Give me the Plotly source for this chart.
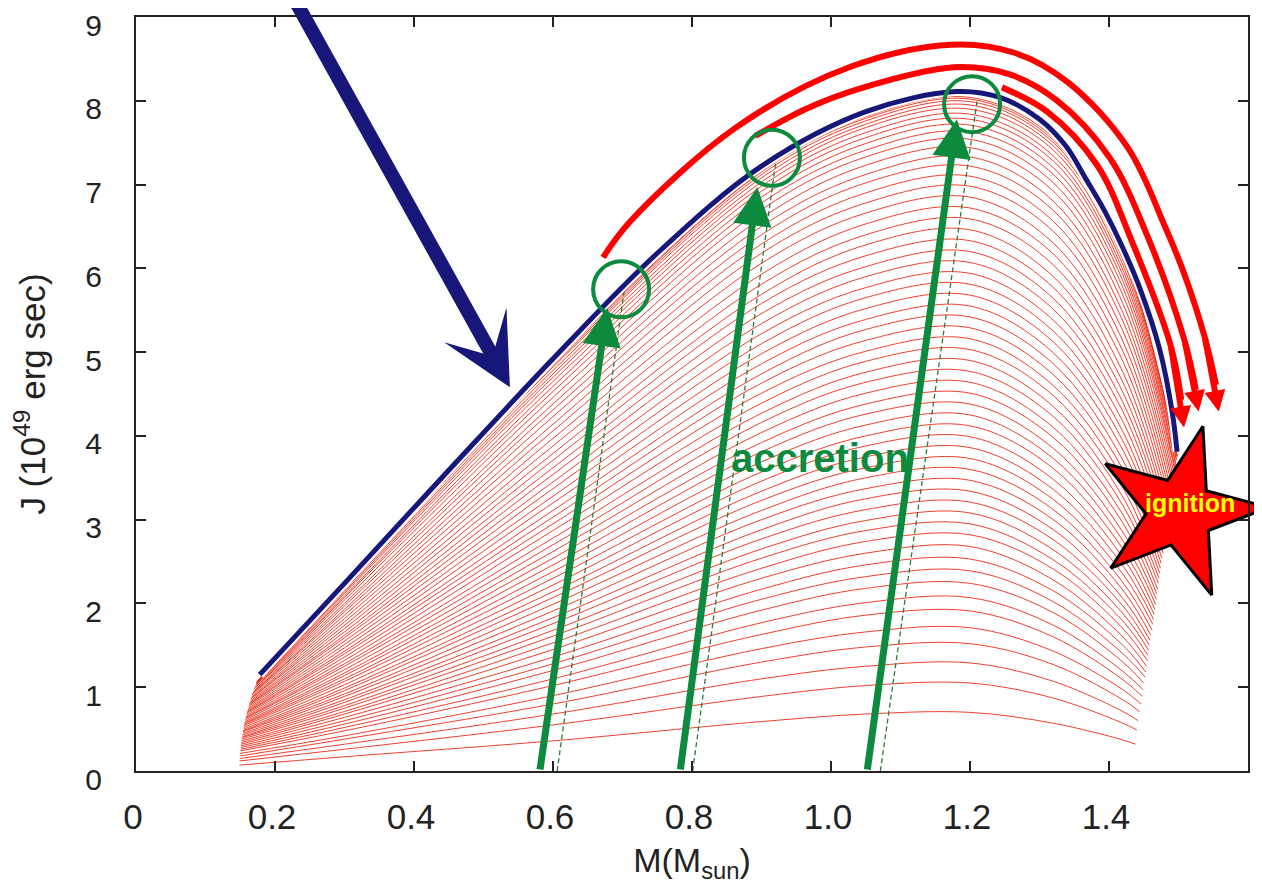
import plotly.graph_objects as go

# ---------------- axes ----------------
x_tick_vals = [0, 0.2, 0.4, 0.6, 0.8, 1.0, 1.2, 1.4]
x_tick_text = ["0", "0.2", "0.4", "0.6", "0.8", "1.0", "1.2", "1.4"]
y_tick_vals = [0, 1, 2, 3, 4, 5, 6, 7, 8, 9]

# ---------------- red family of J(M) curves ----------------
red_cols_M = [0.3, 0.6, 0.9, 1.05, 1.2, 1.32, 1.42]
red_start_M = [0.149, 0.149, 0.150, 0.150, 0.150, 0.150, 0.151, 0.151, 0.151, 0.151,
               0.152, 0.152, 0.152, 0.153, 0.153, 0.153, 0.154, 0.154, 0.154, 0.155,
               0.155, 0.155, 0.156, 0.156, 0.157, 0.157, 0.158, 0.158, 0.159, 0.159,
               0.160, 0.160, 0.161, 0.162, 0.162, 0.163, 0.163, 0.164, 0.165, 0.165,
               0.166, 0.167, 0.167, 0.168, 0.169, 0.170, 0.170, 0.171, 0.172, 0.172,
               0.173, 0.173, 0.173, 0.174, 0.174, 0.174, 0.175, 0.175]
red_start_J = [0.07, 0.12, 0.15, 0.18, 0.21, 0.24, 0.26, 0.28, 0.30, 0.32,
               0.34, 0.36, 0.38, 0.40, 0.41, 0.43, 0.45, 0.47, 0.48, 0.50,
               0.52, 0.54, 0.56, 0.57, 0.59, 0.61, 0.63, 0.64, 0.66, 0.68,
               0.70, 0.71, 0.73, 0.75, 0.77, 0.79, 0.80, 0.82, 0.84, 0.86,
               0.87, 0.89, 0.91, 0.93, 0.94, 0.96, 0.98, 0.99, 1.00, 1.02,
               1.03, 1.04, 1.05, 1.05, 1.06, 1.07, 1.07, 1.07]
red_end_M = [1.438, 1.440, 1.442, 1.444, 1.446, 1.448, 1.449, 1.450, 1.452, 1.453,
             1.454, 1.455, 1.456, 1.457, 1.458, 1.459, 1.460, 1.462, 1.463, 1.464,
             1.465, 1.466, 1.467, 1.468, 1.469, 1.470, 1.471, 1.472, 1.473, 1.474,
             1.475, 1.476, 1.478, 1.479, 1.480, 1.481, 1.482, 1.483, 1.484, 1.485,
             1.486, 1.487, 1.488, 1.489, 1.490, 1.491, 1.492, 1.493, 1.494, 1.495,
             1.495, 1.496, 1.496, 1.497, 1.497, 1.498, 1.498, 1.498]
red_end_J = [0.32, 0.49, 0.60, 0.71, 0.80, 0.89, 0.97, 1.05, 1.12, 1.18,
             1.25, 1.32, 1.38, 1.44, 1.50, 1.56, 1.62, 1.68, 1.75, 1.81,
             1.87, 1.93, 1.99, 2.05, 2.11, 2.17, 2.24, 2.30, 2.36, 2.42,
             2.48, 2.54, 2.60, 2.66, 2.72, 2.79, 2.85, 2.91, 2.97, 3.03,
             3.09, 3.15, 3.21, 3.27, 3.33, 3.39, 3.44, 3.49, 3.54, 3.58,
             3.62, 3.65, 3.68, 3.71, 3.73, 3.75, 3.76, 3.77]
red_J = [
    [0.17, 0.36, 0.59, 0.68, 0.70, 0.57, 0.37],
    [0.26, 0.55, 0.89, 1.02, 1.05, 0.87, 0.57],
    [0.32, 0.68, 1.10, 1.25, 1.29, 1.07, 0.71],
    [0.38, 0.80, 1.30, 1.48, 1.52, 1.27, 0.85],
    [0.42, 0.90, 1.46, 1.66, 1.71, 1.43, 0.97],
    [0.48, 1.02, 1.63, 1.86, 1.91, 1.60, 1.09],
    [0.52, 1.10, 1.77, 2.01, 2.07, 1.74, 1.19],
    [0.56, 1.20, 1.92, 2.18, 2.24, 1.89, 1.30],
    [0.60, 1.28, 2.05, 2.32, 2.39, 2.02, 1.40],
    [0.64, 1.36, 2.17, 2.46, 2.53, 2.15, 1.50],
    [0.68, 1.45, 2.30, 2.60, 2.68, 2.28, 1.60],
    [0.71, 1.53, 2.42, 2.74, 2.82, 2.41, 1.70],
    [0.75, 1.61, 2.54, 2.87, 2.95, 2.52, 1.79],
    [0.78, 1.68, 2.65, 2.99, 3.08, 2.64, 1.88],
    [0.82, 1.76, 2.77, 3.12, 3.21, 2.76, 1.97],
    [0.85, 1.83, 2.88, 3.25, 3.34, 2.88, 2.06],
    [0.89, 1.91, 3.00, 3.37, 3.47, 3.00, 2.16],
    [0.92, 1.99, 3.11, 3.50, 3.60, 3.12, 2.25],
    [0.96, 2.07, 3.23, 3.62, 3.73, 3.24, 2.35],
    [0.99, 2.14, 3.34, 3.75, 3.86, 3.36, 2.45],
    [1.03, 2.22, 3.46, 3.88, 3.99, 3.48, 2.55],
    [1.07, 2.30, 3.57, 4.00, 4.12, 3.61, 2.65],
    [1.10, 2.38, 3.69, 4.13, 4.25, 3.73, 2.75],
    [1.14, 2.46, 3.81, 4.26, 4.38, 3.85, 2.85],
    [1.17, 2.54, 3.92, 4.38, 4.51, 3.98, 2.96],
    [1.21, 2.62, 4.04, 4.51, 4.64, 4.10, 3.06],
    [1.25, 2.70, 4.16, 4.64, 4.77, 4.23, 3.17],
    [1.28, 2.78, 4.27, 4.76, 4.90, 4.35, 3.27],
    [1.32, 2.87, 4.39, 4.89, 5.03, 4.48, 3.38],
    [1.36, 2.95, 4.51, 5.01, 5.16, 4.60, 3.49],
    [1.40, 3.03, 4.63, 5.14, 5.29, 4.73, 3.60],
    [1.43, 3.11, 4.74, 5.27, 5.42, 4.86, 3.71],
    [1.47, 3.20, 4.86, 5.39, 5.55, 4.99, 3.83],
    [1.51, 3.28, 4.98, 5.52, 5.68, 5.12, 3.94],
    [1.55, 3.37, 5.10, 5.65, 5.81, 5.25, 4.05],
    [1.59, 3.45, 5.22, 5.77, 5.94, 5.38, 4.17],
    [1.62, 3.54, 5.34, 5.90, 6.07, 5.51, 4.29],
    [1.66, 3.62, 5.46, 6.02, 6.20, 5.64, 4.40],
    [1.70, 3.71, 5.58, 6.15, 6.33, 5.77, 4.52],
    [1.74, 3.79, 5.69, 6.28, 6.46, 5.90, 4.64],
    [1.78, 3.88, 5.81, 6.40, 6.59, 6.04, 4.76],
    [1.82, 3.97, 5.93, 6.53, 6.72, 6.17, 4.89],
    [1.86, 4.06, 6.06, 6.66, 6.85, 6.30, 5.01],
    [1.90, 4.14, 6.18, 6.78, 6.98, 6.44, 5.13],
    [1.93, 4.23, 6.29, 6.90, 7.10, 6.56, 5.25],
    [1.97, 4.31, 6.40, 7.02, 7.22, 6.69, 5.37],
    [2.00, 4.38, 6.50, 7.12, 7.33, 6.80, 5.47],
    [2.04, 4.46, 6.60, 7.23, 7.44, 6.92, 5.58],
    [2.07, 4.53, 6.70, 7.33, 7.54, 7.02, 5.68],
    [2.09, 4.59, 6.78, 7.41, 7.63, 7.12, 5.77],
    [2.12, 4.65, 6.85, 7.49, 7.71, 7.20, 5.85],
    [2.14, 4.70, 6.92, 7.56, 7.78, 7.28, 5.92],
    [2.16, 4.74, 6.98, 7.62, 7.84, 7.34, 5.98],
    [2.18, 4.78, 7.03, 7.68, 7.90, 7.41, 6.04],
    [2.19, 4.82, 7.08, 7.72, 7.95, 7.46, 6.10],
    [2.21, 4.84, 7.12, 7.76, 7.99, 7.50, 6.14],
    [2.21, 4.86, 7.15, 7.79, 8.02, 7.53, 6.17],
    [2.22, 4.88, 7.16, 7.81, 8.04, 7.56, 6.19],
]

# ---------------- blue envelope ----------------
blue_M = [0.178, 0.3, 0.45, 0.6, 0.75, 0.9, 1.05, 1.18, 1.243, 1.30, 1.338,
          1.368, 1.394, 1.419, 1.445, 1.473, 1.491, 1.498]
blue_J = [1.15, 2.24, 3.59, 4.92, 6.18, 7.22, 7.87, 8.11, 8.04, 7.78, 7.46,
          7.05, 6.68, 6.26, 5.75, 5.03, 4.28, 3.81]

# ---------------- thick red arcs (with arrow tips) ----------------
arc_outer_M = [0.672, 0.711, 0.863, 1.026, 1.173, 1.265, 1.341, 1.427, 1.481, 1.508, 1.538, 1.554]
arc_outer_J = [6.13, 6.56, 7.68, 8.40, 8.67, 8.57, 8.22, 7.44, 6.49, 5.94, 5.17, 4.61]
arc_middle_M = [0.891, 0.963, 1.039, 1.177, 1.255, 1.324, 1.401, 1.455, 1.509, 1.525]
arc_middle_J = [7.58, 7.90, 8.14, 8.40, 8.32, 8.01, 7.32, 6.39, 5.13, 4.55]
arc_inner_M = [1.246, 1.311, 1.383, 1.433, 1.489, 1.504]
arc_inner_J = [8.16, 7.87, 7.23, 6.32, 5.07, 4.43]
arc_tip_M = [1.558, 1.529, 1.508]
arc_tip_J = [4.29, 4.29, 4.10]

# ---------------- accretion arrows ----------------
acc_tail_M = [0.581, 0.783, 1.052]
acc_tail_J = [0.0, 0.0, 0.0]
acc_tip_M = [0.678, 0.894, 1.181]
acc_tip_J = [5.53, 6.97, 7.78]
dash_bottom_M = [0.606, 0.801, 1.071]
dash_top_M = [0.704, 0.921, 1.210]
dash_top_J = [5.83, 7.30, 7.99]
circle_M = [0.698, 0.915, 1.203]
circle_J = [5.75, 7.32, 7.96]

# big navy pointer
pointer_tail = (0.222, 9.30)
pointer_tip = (0.538, 4.58)

star_pos = (1.502, 3.09)
ignition_pos = (1.517, 3.20)
accretion_pos = (0.984, 3.74)

RED_THIN = "rgb(236,42,22)"
NAVY = "#17177a"
GREEN = "#0c8a3e"
RED = "#ff0000"
AX = "#222222"
FONT = "Liberation Sans, Arial, Helvetica, sans-serif"

fig = go.Figure()

# family of curves
fam_x, fam_y = [], []
for m0, j0, row, m1, j1 in zip(red_start_M, red_start_J, red_J, red_end_M, red_end_J):
    fam_x += [m0] + red_cols_M + [m1, None]
    fam_y += [j0] + row + [j1, None]
fig.add_trace(go.Scatter(x=fam_x, y=fam_y, mode="lines",
                         line=dict(color=RED_THIN, width=0.9, shape="spline"),
                         hoverinfo="skip"))

# dashed thin green guide lines
for mb, mt, jt in zip(dash_bottom_M, dash_top_M, dash_top_J):
    fig.add_trace(go.Scatter(x=[mb, mt], y=[0, jt], mode="lines",
                             line=dict(color="#2f7a35", width=1.3, dash="5px,3px"),
                             hoverinfo="skip"))

# blue envelope with a white halo
fig.add_trace(go.Scatter(x=blue_M, y=blue_J, mode="lines",
                         line=dict(color="white", width=9, shape="spline"), hoverinfo="skip"))
fig.add_trace(go.Scatter(x=blue_M, y=blue_J, mode="lines",
                         line=dict(color=NAVY, width=5, shape="spline"), hoverinfo="skip"))

# thick red arcs
for am, aj in [(arc_outer_M, arc_outer_J), (arc_middle_M, arc_middle_J), (arc_inner_M, arc_inner_J)]:
    fig.add_trace(go.Scatter(x=am, y=aj, mode="lines", cliponaxis=False,
                             line=dict(color=RED, width=6, shape="spline"), hoverinfo="skip"))

# circles
fig.add_trace(go.Scatter(x=circle_M, y=circle_J, mode="markers",
                         marker=dict(symbol="circle-open", size=56, color=GREEN,
                                     line=dict(width=4, color=GREEN)),
                         hoverinfo="skip"))

# star
fig.add_trace(go.Scatter(x=[star_pos[0]], y=[star_pos[1]], mode="markers", cliponaxis=False,
                         marker=dict(symbol="star", size=127, color=RED, angle=15,
                                     line=dict(color="black", width=3)),
                         hoverinfo="skip"))

annotations = []
# red arc arrowheads
for am, aj, tm, tj in zip([arc_outer_M, arc_middle_M, arc_inner_M],
                          [arc_outer_J, arc_middle_J, arc_inner_J], arc_tip_M, arc_tip_J):
    annotations.append(dict(x=tm, y=tj, ax=am[-2], ay=aj[-2], xref="x", yref="y",
                            axref="x", ayref="y", showarrow=True, text="",
                            arrowhead=2, arrowsize=0.7, arrowwidth=6, arrowcolor=RED))
# green accretion arrows
for m0, j0, m1, j1 in zip(acc_tail_M, acc_tail_J, acc_tip_M, acc_tip_J):
    annotations.append(dict(x=m1, y=j1, ax=m0, ay=j0, xref="x", yref="y",
                            axref="x", ayref="y", showarrow=True, text="",
                            arrowhead=2, arrowsize=1.1, arrowwidth=7, arrowcolor=GREEN))
# navy pointer
annotations.append(dict(x=pointer_tip[0], y=pointer_tip[1], ax=pointer_tail[0], ay=pointer_tail[1],
                        xref="x", yref="y", axref="x", ayref="y", showarrow=True, text="",
                        arrowhead=3, arrowsize=0.85, arrowwidth=14, arrowcolor=NAVY))
# texts
annotations.append(dict(x=accretion_pos[0], y=accretion_pos[1], xref="x", yref="y",
                        text="<b>accretion</b>", showarrow=False,
                        font=dict(family=FONT, size=40, color=GREEN)))
annotations.append(dict(x=ignition_pos[0], y=ignition_pos[1], xref="x", yref="y",
                        text="<b>ignition</b>", showarrow=False,
                        font=dict(family=FONT, size=25, color="#ffff00")))

# the page body adds an 8 px offset, so margins are set 8 px smaller on left/top
fig.update_layout(
    width=1262, height=882,
    margin=dict(l=128, r=22, t=9, b=119, autoexpand=False),
    paper_bgcolor="white", plot_bgcolor="white",
    showlegend=False,
    font=dict(family=FONT, color=AX),
    annotations=annotations,
)
fig.update_xaxes(
    range=[0, 1.6], tickvals=x_tick_vals, ticktext=x_tick_text,
    ticks="inside", ticklen=10, tickwidth=1.5, tickcolor=AX,
    showline=True, linecolor=AX, linewidth=2, mirror="ticks",
    showgrid=False, zeroline=False, ticklabeloverflow="allow",
    tickfont=dict(size=35, color=AX), ticklabelstandoff=14, ticklabelshift=-3,
    title=dict(text="M(M<sub>sun</sub>)", font=dict(size=34, color=AX), standoff=13),
)
fig.update_yaxes(
    range=[0, 9], tickvals=y_tick_vals,
    ticks="inside", ticklen=10, tickwidth=1.5, tickcolor=AX,
    showline=True, linecolor=AX, linewidth=2, mirror="ticks",
    showgrid=False, zeroline=False, ticklabeloverflow="allow",
    tickfont=dict(size=30, color=AX), ticklabelstandoff=26, ticklabelshift=8,
    title=dict(text="J (10<sup>49</sup> erg sec)", font=dict(size=35, color=AX), standoff=36),
)

fig.write_html("out.html")
